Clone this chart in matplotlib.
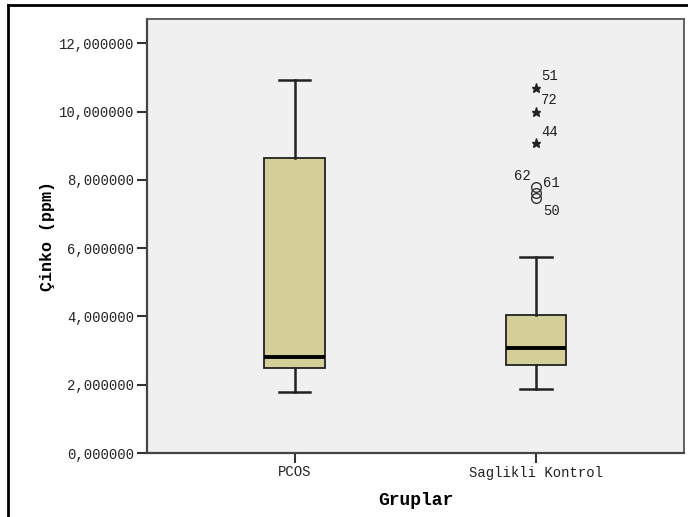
import matplotlib
matplotlib.use("Agg")
from matplotlib import pyplot as plt
from matplotlib.lines import Line2D
from matplotlib.ticker import FuncFormatter

groups = ["PCOS", "Saglikli Kontrol"]
whislo = [1.80, 1.88]
q1 = [2.50, 2.58]
med = [2.80, 3.08]
q3 = [8.65, 4.03]
whishi = [10.93, 5.75]

# extreme values (stars) and outliers (circles) of the control group
extreme_vals = [10.68, 9.98, 9.08]
extreme_ids = ["51", "72", "44"]
extreme_off = [(5, 12), (5, 12), (5, 11)]
outlier_vals = [7.80, 7.62, 7.48]
outlier_ids = ["62", "61", "50"]
outlier_off = [(-5, 11), (7, 10), (7, -13)]

mono = "Liberation Mono"

fig = plt.figure(figsize=(6.88, 5.17), dpi=100)
ax = fig.add_axes([147 / 688, 1 - 453 / 517, 537 / 688, 434 / 517])
ax.set_facecolor("#f0f0f0")

stats = []
for i in range(len(groups)):
    stats.append({"label": groups[i], "whislo": whislo[i], "q1": q1[i],
                  "med": med[i], "q3": q3[i], "whishi": whishi[i], "fliers": []})

ax.bxp(stats, positions=[1, 2], widths=0.25, patch_artist=True,
       showfliers=False,
       boxprops=dict(facecolor="#d4cf99", edgecolor="#222222", linewidth=1.3),
       medianprops=dict(color="black", linewidth=2.8),
       whiskerprops=dict(color="#222222", linewidth=1.8),
       capprops=dict(color="#222222", linewidth=1.8),
       capwidths=0.13)

ax.plot([2] * len(extreme_vals), extreme_vals, linestyle="none", marker="*",
        markersize=6.5, color="#222222")
ax.plot([2] * len(outlier_vals), outlier_vals, linestyle="none", marker="o",
        markersize=7, markerfacecolor="none", markeredgecolor="#333333",
        markeredgewidth=1.0)

for v, t, off in zip(extreme_vals, extreme_ids, extreme_off):
    ax.annotate(t, (2, v), xytext=off, textcoords="offset pixels",
                ha="left", va="center", fontsize=10, family=mono, color="#222222")
for v, t, off in zip(outlier_vals, outlier_ids, outlier_off):
    ax.annotate(t, (2, v), xytext=off, textcoords="offset pixels",
                ha="right" if off[0] < 0 else "left", va="center",
                fontsize=10, family=mono, color="#222222")

ax.set_xlim(0.389, 2.613)
ax.set_ylim(0, 12.71)
ax.set_yticks(range(0, 13, 2))
ax.yaxis.set_major_formatter(FuncFormatter(lambda v, p: f"{v:.6f}".replace(".", ",")))
ax.set_xticks([1, 2])
ax.set_xticklabels(groups)

for lab in ax.get_xticklabels() + ax.get_yticklabels():
    lab.set_family(mono)
    lab.set_fontsize(10)
    lab.set_color("#222222")
ax.tick_params(axis="both", length=7, width=1.5, color="#333333", pad=2)
ax.tick_params(axis="x", pad=2)

for s in ax.spines.values():
    s.set_color("#555555")
    s.set_linewidth(1.3)
ax.spines["left"].set_color("#444444")
ax.spines["bottom"].set_color("#444444")
ax.spines["left"].set_linewidth(1.6)
ax.spines["bottom"].set_linewidth(1.6)

ax.set_xlabel("Gruplar", family=mono, fontsize=13, fontweight="bold", labelpad=9)
ax.set_ylabel("Çinko (ppm)", family=mono, fontsize=12, fontweight="bold", labelpad=3)

# outer frame on the left and top
fig.add_artist(Line2D([8 / 688, 8 / 688], [0, 1 - 5 / 517], color="black", linewidth=2))
fig.add_artist(Line2D([8 / 688, 1], [1 - 5 / 517, 1 - 5 / 517], color="black", linewidth=2))

fig.savefig("out.png", dpi=100)
